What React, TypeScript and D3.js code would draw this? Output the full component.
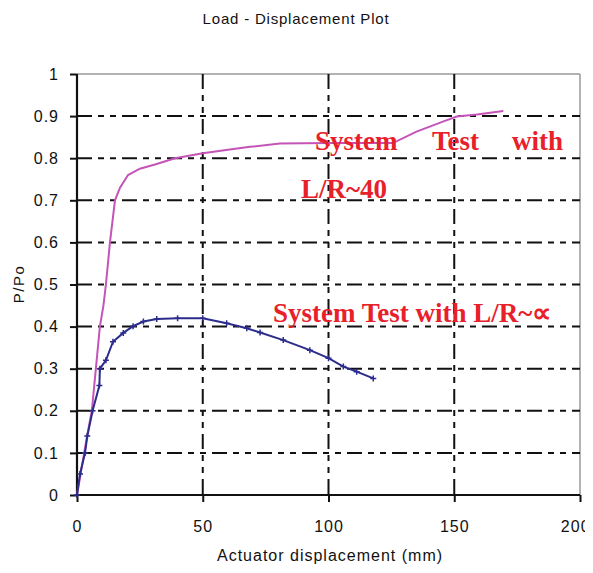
import React, { useEffect, useRef } from "react";
import * as d3 from "d3";

// L/R~40 curve (pink)
const pinkX = [0, 2, 4, 5.9, 7.5, 9.1, 10.5, 11.5, 13.1, 15.1, 17.1, 20.3, 25, 31, 39, 50, 60, 68.8, 80.7, 100, 125.6, 135, 145.5, 151, 159, 169.5];
const pinkY = [0, 0.07, 0.14, 0.2, 0.3, 0.4, 0.45, 0.5, 0.6, 0.7, 0.73, 0.76, 0.775, 0.785, 0.8, 0.812, 0.82, 0.827, 0.835, 0.836, 0.836, 0.863, 0.887, 0.899, 0.904, 0.912];

// L/R~inf curve (blue)
const blueX = [0, 1.2, 3.2, 4.1, 6.2, 8.9, 9.1, 11.5, 14.3, 18.4, 22.3, 26.4, 31.7, 40, 50, 59.5, 67.5, 72.8, 82, 92.6, 100, 105.9, 111.2, 117.8];
const blueY = [0, 0.05, 0.1, 0.14, 0.2, 0.26, 0.3, 0.32, 0.364, 0.385, 0.401, 0.412, 0.418, 0.42, 0.42, 0.408, 0.396, 0.386, 0.368, 0.344, 0.325, 0.305, 0.293, 0.277];

const xTicks = [0, 50, 100, 150, 200];
const yTicks = [0, 0.1, 0.2, 0.3, 0.4, 0.5, 0.6, 0.7, 0.8, 0.9, 1];

const W = 593;
const H = 573;

export default function App() {
  const ref = useRef<SVGSVGElement>(null);

  useEffect(() => {
    const svg = d3.select(ref.current);
    svg.selectAll("*").remove();

    const x = d3.scaleLinear().domain([0, 200]).range([77, 580]);
    const y = d3.scaleLinear().domain([0, 1]).range([495, 74]);
    const font = "'Liberation Sans', Arial, sans-serif";
    const dash = "15,6,6,6,6,6";

    svg.append("rect").attr("width", W).attr("height", H).attr("fill", "#fff");

    // title
    svg.append("text")
      .attr("x", 296).attr("y", 24)
      .attr("text-anchor", "middle")
      .attr("font-family", font).attr("font-size", 15)
      .attr("letter-spacing", 0.8)
      .attr("fill", "#111")
      .text("Load - Displacement Plot");

    // border top/right
    svg.append("line").attr("x1", x(0)).attr("x2", x(200)).attr("y1", y(1)).attr("y2", y(1))
      .attr("stroke", "#999").attr("stroke-width", 1.5);
    svg.append("line").attr("x1", x(200)).attr("x2", x(200)).attr("y1", y(1)).attr("y2", y(0))
      .attr("stroke", "#999").attr("stroke-width", 1.5);

    // grid
    const g = svg.append("g");
    g.selectAll("line.hg")
      .data(yTicks.filter(d => d > 0 && d < 1))
      .join("line")
      .attr("class", "hg")
      .attr("x1", x(0)).attr("x2", x(200))
      .attr("y1", d => y(d)).attr("y2", d => y(d))
      .attr("stroke", "#111").attr("stroke-width", 2)
      .attr("stroke-dasharray", dash);
    g.selectAll("line.vg")
      .data(xTicks.filter(d => d > 0 && d < 200))
      .join("line")
      .attr("class", "vg")
      .attr("x1", d => x(d)).attr("x2", d => x(d))
      .attr("y1", y(1)).attr("y2", y(0))
      .attr("stroke", "#111").attr("stroke-width", 2)
      .attr("stroke-dasharray", dash);

    // axes
    const xAxis = d3.axisBottom(x).tickValues(xTicks).tickSize(7).tickFormat(d3.format("d"));
    const yAxis = d3.axisLeft(y).tickValues(yTicks).tickSize(7).tickFormat(d => d3.format("")(d as number));
    const ax = svg.append("g").attr("transform", `translate(0,${y(0)})`).call(xAxis);
    const ay = svg.append("g").attr("transform", `translate(${x(0)},0)`).call(yAxis);
    [ax, ay].forEach(a => {
      a.select(".domain").attr("stroke", "#111").attr("stroke-width", 2.2);
      a.selectAll(".tick line").attr("stroke", "#111").attr("stroke-width", 2);
      a.selectAll(".tick text")
        .attr("font-family", font).attr("font-size", 16).attr("letter-spacing", 1).attr("fill", "#111");
    });
    ax.selectAll(".tick text").attr("dy", "1.7em");
    ax.selectAll<SVGTextElement, number>(".tick text").filter(d => d === 200).attr("dx", "-0.3em");
    ay.selectAll(".tick text").attr("dx", "-0.5em");
    ax.select(".domain").attr("d", `M${x(0)},0H${x(200)}`);
    ay.select(".domain").attr("d", `M0,${y(0)}V${y(1)}`);

    // axis labels
    svg.append("text")
      .attr("x", 330).attr("y", 561)
      .attr("text-anchor", "middle")
      .attr("font-family", font).attr("font-size", 16).attr("letter-spacing", 1).attr("fill", "#111")
      .text("Actuator displacement (mm)");
    svg.append("text")
      .attr("transform", "translate(24,284) rotate(-90)")
      .attr("text-anchor", "middle")
      .attr("font-family", font).attr("font-size", 15).attr("letter-spacing", 1.5).attr("fill", "#111")
      .text("P/Po");

    // curves
    const line = d3.line<[number, number]>().x(d => x(d[0])).y(d => y(d[1]));
    const pink = pinkX.map((v, i) => [v, pinkY[i]] as [number, number]);
    const blue = blueX.map((v, i) => [v, blueY[i]] as [number, number]);

    svg.append("path").datum(pink).attr("d", line)
      .attr("fill", "none").attr("stroke", "#c554b8").attr("stroke-width", 2);
    svg.append("path").datum(blue).attr("d", line)
      .attr("fill", "none").attr("stroke", "#2c2c8c").attr("stroke-width", 2);

    svg.selectAll("path.bm")
      .data(blue)
      .join("path")
      .attr("class", "bm")
      .attr("d", d => `M${x(d[0]) - 3},${y(d[1])}h6M${x(d[0])},${y(d[1]) - 3}v6`)
      .attr("stroke", "#2c2c8c").attr("stroke-width", 1.5);

    // annotations
    const red = "#e8202a";
    const serif = "'Liberation Serif', 'Times New Roman', serif";
    const ann = svg.append("g").attr("font-family", serif).attr("font-weight", "bold")
      .attr("font-size", 27).attr("fill", red);
    ann.append("text").attr("x", 315).attr("y", 150).text("System");
    ann.append("text").attr("x", 432).attr("y", 150).text("Test");
    ann.append("text").attr("x", 512).attr("y", 150).text("with");
    ann.append("text").attr("x", 301).attr("y", 198).text("L/R~40");
    ann.append("text").attr("x", 273).attr("y", 322).text("System Test with L/R~\u221D");
  }, []);

  return <svg ref={ref} width={W} height={H} style={{ display: "block", margin: -8 }} />;
}
